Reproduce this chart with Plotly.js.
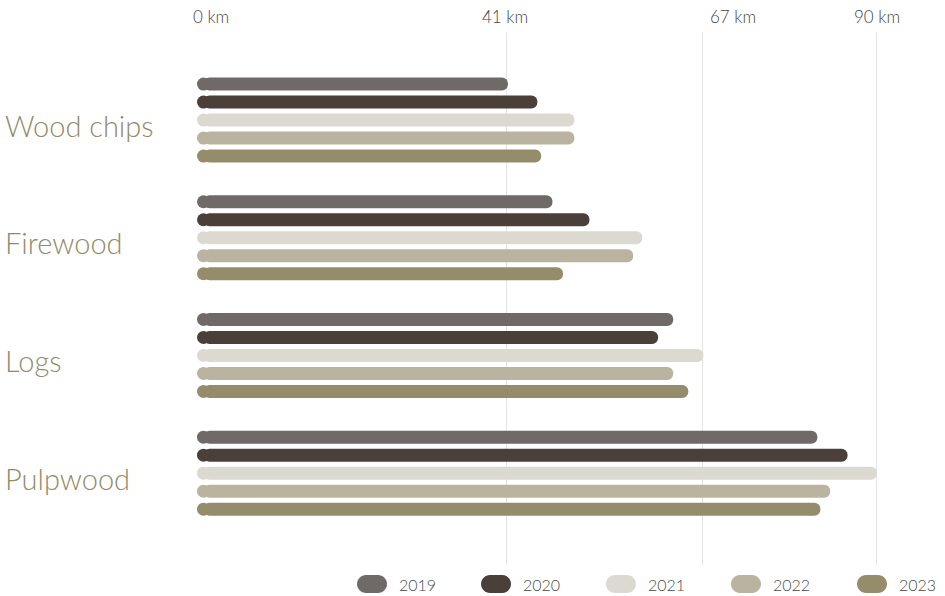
<!DOCTYPE html>
<html>
<head>
<meta charset="utf-8">
<script src="https://cdn.plot.ly/plotly-3.0.1.min.js"></script>
<style>html,body{margin:0;padding:0;background:#fff;}#chart{width:945px;height:596px;}</style>
</head>
<body>
<div id="chart"></div>
<script>
var categories = ["Wood chips", "Firewood", "Logs", "Pulpwood"];
var years = ["2019", "2020", "2021", "2022", "2023"];
var v2019 = [41.2, 47.1, 63.1, 82.2];
var v2020 = [45.1, 52.0, 61.1, 86.2];
var v2021 = [50.0, 59.0, 67.1, 90.1];
var v2022 = [50.0, 57.8, 63.1, 83.9];
var v2023 = [45.6, 48.5, 65.1, 82.6];
var tickValues = [0, 41, 67, 90];
var tickLabels = ["0 km", "41 km", "67 km", "90 km"];
var colors = ["#6f6a67", "#4a3f39", "#dcd9d1", "#b9b3a0", "#958c6c"];

var series = [v2019, v2020, v2021, v2022, v2023];

var W = 945, H = 596;
var mL = 197, mR = 31, mT = 32, mB = 31;
var pw = W - mL - mR, ph = H - mT - mB;
var xMax = 95, yRange = [3.78, -0.748];
function px2x(px) { return (px - mL) / pw; }
function py2y(py) { return (H - mB - py) / ph; }

var pxPerY = ph / (yRange[0] - yRange[1]);
var pxPerX = pw / xMax;
var barPx = 13;
var barW = barPx / pxPerY, pitch = 18 / pxPerY;
var capR = (barPx / 2) / pxPerX;   // half bar height, in km

var catIdx = categories.map(function (c, k) { return k; });
var traces = [];
series.forEach(function (vals, i) {
  var ys = catIdx.map(function (k) { return k + (i - 2) * pitch; });
  traces.push({
    type: "bar", orientation: "h", y: ys,
    base: vals.map(function () { return capR; }),
    x: vals.map(function (v) { return v - capR; }),
    width: barW, name: years[i], showlegend: false,
    marker: { color: colors[i], cornerradius: barPx / 2, line: { width: 0 } },
    hoverinfo: "skip"
  });
  traces.push({
    type: "scatter", mode: "markers", y: ys,
    x: vals.map(function () { return capR; }),
    name: years[i], showlegend: false, cliponaxis: false,
    marker: { color: colors[i], size: barPx, symbol: "circle", line: { width: 0 } },
    hoverinfo: "skip"
  });
});

var annotations = [];
categories.forEach(function (c, k) {
  annotations.push({
    xref: "paper", yref: "y", x: px2x(3), y: k, xanchor: "left", yanchor: "middle",
    yshift: -5, text: c, showarrow: false,
    font: { family: "Lato, 'Open Sans', sans-serif", size: 29, color: "#938a6a", weight: 300 }
  });
});

// top axis labels
var tickAnchor = ["left", "center", "left", "center"];
var tickShift = [-6, -1, 5, 1];
tickValues.forEach(function (t, i) {
  annotations.push({
    xref: "x", yref: "paper", x: t, y: py2y(16), xanchor: tickAnchor[i], yanchor: "middle",
    xshift: tickShift[i], text: tickLabels[i], showarrow: false,
    font: { family: "Lato, 'Open Sans', sans-serif", size: 17, color: "#444444", weight: 300 }
  });
});

var shapes = [];
var legendX = [372, 496, 621, 746, 872];
years.forEach(function (y, i) {
  shapes.push({
    type: "path", xref: "paper", yref: "paper",
    xsizemode: "pixel", ysizemode: "pixel",
    xanchor: px2x(legendX[i]), yanchor: py2y(584),
    path: "M-6,-9 H6 C10.97,-9 15,-4.97 15,0 C15,4.97 10.97,9 6,9 H-6 C-10.97,9 -15,4.97 -15,0 C-15,-4.97 -10.97,-9 -6,-9 Z",
    fillcolor: colors[i], line: { width: 0 }
  });
  annotations.push({
    xref: "paper", yref: "paper", x: px2x(legendX[i] + 25), y: py2y(584),
    xanchor: "left", yanchor: "middle", text: y, showarrow: false,
    font: { family: "Lato, 'Open Sans', sans-serif", size: 16, color: "#4a4a4a", weight: 300 }
  });
});

var layout = {
  width: W, height: H,
  margin: { l: mL, r: mR, t: mT, b: mB, pad: 0 },
  paper_bgcolor: "#ffffff", plot_bgcolor: "#ffffff",
  barmode: "overlay",
  showlegend: false,
  xaxis: {
    side: "top", range: [0, xMax], tickmode: "array", tickvals: tickValues, ticktext: tickLabels,
    showticklabels: false,
    showgrid: true, gridcolor: "#e4e4e4", gridwidth: 1, zeroline: false,
    ticks: "", showline: false, fixedrange: true
  },
  yaxis: {
    range: yRange, showticklabels: false, showgrid: false, zeroline: false,
    showline: false, ticks: "", fixedrange: true
  },
  annotations: annotations,
  shapes: shapes
};

Plotly.newPlot("chart", traces, layout, { displayModeBar: false, staticPlot: true });
</script>
</body>
</html>
